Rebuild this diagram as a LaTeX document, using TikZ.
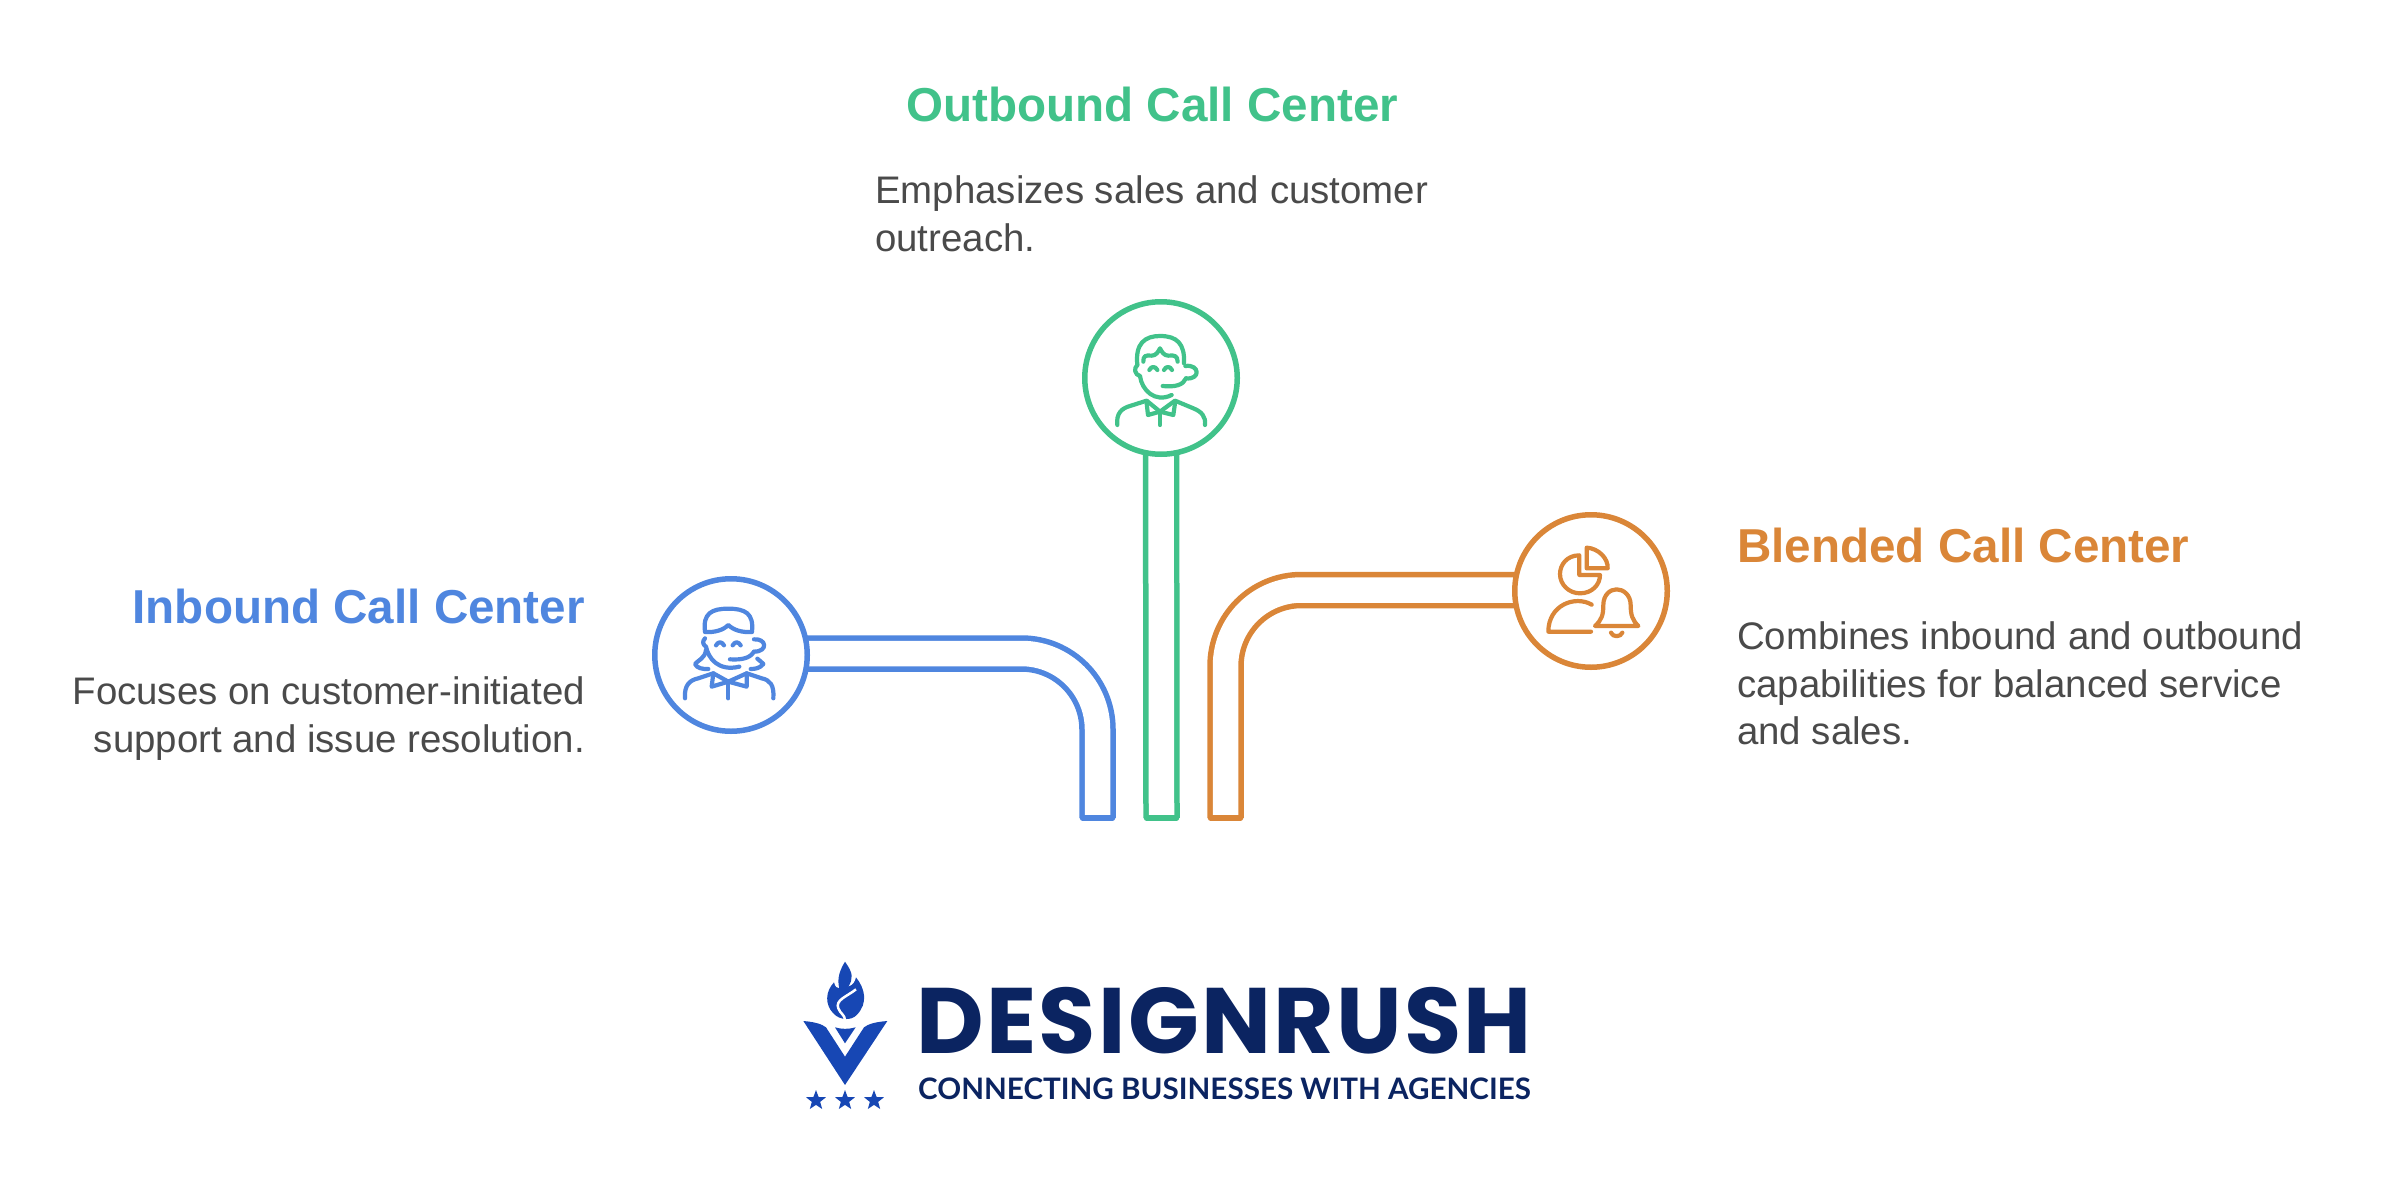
\documentclass[tikz,border=0pt]{standalone}
\usepackage{fontspec}
\setmainfont{Liberation Sans}
\newfontfamily\logofont{Poppins}
\newfontfamily\tagfont{Lato}
\usepackage{tikz}
\usetikzlibrary{positioning, calc}
\usetikzlibrary{shapes.geometric,backgrounds}
\definecolor{inblue}{HTML}{4F86DF}
\definecolor{outgreen}{HTML}{41C28A}
\definecolor{blendorange}{HTML}{DA8638}
\definecolor{bodygray}{HTML}{4A4A4A}
\definecolor{navy}{HTML}{0B2461}
\definecolor{logoblue}{HTML}{1747B4}
\tikzset{
	hub/.style={circle,draw=#1,line width=5.5pt,fill=white,minimum size=152.5pt,inner sep=0pt},
	tube/.style={draw=#1,line width=5.5pt,double=white,double distance=25.5pt,rounded corners=76pt},
	tubecap/.style={draw=#1,line width=5.5pt,line cap=round},
	icon/.style={draw=#1,line width=4.2pt,line cap=round,line join=round},
	heading/.style={font=\bfseries\fontsize{47.6}{47.6}\selectfont,text=#1,inner sep=0pt},
	body/.style={font=\fontsize{38.4}{47.5}\selectfont,text=bodygray,inner sep=0pt},
	logostar/.style={star,star points=5,star point ratio=2.4,fill=logoblue,minimum size=21pt,inner sep=0pt}
}
\begin{document}
\begin{tikzpicture}[x=1pt,y=-1pt]
	\useasboundingbox (0,0) rectangle (2400,1188);
	% hubs
	\node [hub=inblue] (inbound) at (731,655) {};
	\node [hub=outgreen] (outbound) at (1161,378) {};
	\node [hub=blendorange] (blended) at (1591,591) {};
	\coordinate (inend) at (1097.5,818);
	\coordinate (outend) at (1161.5,818);
	\coordinate (blendend) at (1225.5,818);
	% tubes
	\begin{scope}[on background layer]
		\draw [tube=inblue] ([yshift=1.5pt]inbound.center) -| (inend);
		\draw [tube=outgreen] (outbound.center) -- (outend);
		\draw [tube=blendorange] ([yshift=1pt]blended.center) -| (blendend);
	\end{scope}
	\draw [tubecap=inblue] ($(inend)+(-15,0)$) -- ($(inend)+(15,0)$);
	\draw [tubecap=outgreen] ($(outend)+(-15,0)$) -- ($(outend)+(15,0)$);
	\draw [tubecap=blendorange] ($(blendend)+(-15,0)$) -- ($(blendend)+(15,0)$);
	% labels
	\node [heading=inblue,anchor=base east] (inboundt) at (585,623) {Inbound Call Center};
	\node [body,align=right,below=53.5pt of inboundt.base east,anchor=north east] (inboundb) {Focuses on customer-initiated\\support and issue resolution.};
	\node [heading=outgreen,anchor=base west] (outboundt) at (906,122) {Outbound Call Center};
	\node [body,align=left,below=53.5pt of outboundt.base west,xshift=-31pt,anchor=north west] (outboundb) {Emphasizes sales and customer\\outreach.};
	\node [heading=blendorange,anchor=base west] (blendedt) at (1737,562) {Blended Call Center};
	\node [body,align=left,below=59.5pt of blendedt.base west,anchor=north west] (blendedb) {Combines inbound and outbound\\capabilities for balanced service\\and sales.};
	% woman with headset
	\begin{scope}[shift={(640,570)},scale=0.3333]
		\draw [icon=inblue] (195,185) .. controls (188,130) and (215,116) .. (265,116) .. controls (315,116) and (342,130) .. (336,185);
		\draw [icon=inblue] (195,186) .. controls (225,188) and (250,180) .. (265,165) .. controls (280,180) and (305,188) .. (336,186);
		\draw [icon=inblue] (195,205) .. controls (185,215) and (190,225) .. (198,230) .. controls (205,265) and (235,305) .. (298,290);
		\draw [icon=inblue] (198,240) .. controls (195,265) and (175,270) .. (165,282) .. controls (170,295) and (190,298) .. (205,297);
		\draw [icon=inblue] (228,226) .. controls (235,214) and (245,214) .. (252,226);
		\draw [icon=inblue] (278,226) .. controls (285,214) and (295,214) .. (302,226);
		\draw [icon=inblue] (270,268) .. controls (305,270) and (330,265) .. (342,245);
		\draw [icon=inblue] (342,208) .. controls (380,205) and (385,245) .. (342,245);
		\draw [icon=inblue] (352,266) .. controls (360,272) and (365,277) .. (370,282) .. controls (360,295) and (345,297) .. (332,297);
		\draw [icon=inblue] (135,385) .. controls (132,345) and (150,330) .. (175,325) -- (220,310) -- (265,335) -- (320,310) -- (365,325) .. controls (390,330) and (403,345) .. (400,385);
		\draw [icon=inblue] (220,310) -- (215,350) -- (265,335) -- (320,350) -- (320,310);
		\draw [icon=inblue] (265,335) -- (265,385);
	\end{scope}
	% man with headset
	\begin{scope}[shift={(1080,300)},scale=0.3333]
		\draw [icon=outgreen] (172,195) .. controls (165,130) and (195,108) .. (240,108) .. controls (290,108) and (315,130) .. (312,190);
		\draw [icon=outgreen] (190,185) .. controls (190,168) and (195,165) .. (215,167) .. controls (228,167) and (235,155) .. (240,145) .. controls (245,155) and (252,167) .. (265,167) .. controls (285,165) and (292,168) .. (293,185);
		\draw [icon=outgreen] (172,195) .. controls (160,205) and (165,225) .. (180,228) .. controls (185,270) and (225,310) .. (275,285);
		\draw [icon=outgreen] (208,210) .. controls (214,198) and (226,198) .. (232,210);
		\draw [icon=outgreen] (252,210) .. controls (258,198) and (270,198) .. (276,210);
		\draw [icon=outgreen] (248,258) .. controls (285,262) and (310,255) .. (318,235);
		\draw [icon=outgreen] (316,198) .. controls (360,192) and (362,240) .. (318,235);
		\draw [icon=outgreen] (112,375) .. controls (108,340) and (125,325) .. (150,318) -- (200,302) -- (240,335) -- (285,302) -- (340,325) .. controls (365,335) and (378,350) .. (375,375);
		\draw [icon=outgreen] (200,310) -- (204,345) -- (240,335) -- (280,345) -- (285,310);
		\draw [icon=outgreen] (240,335) -- (240,375);
	\end{scope}
	% person with chart and bell
	\begin{scope}[shift={(1510,510)},scale=0.3333]
		\draw [icon=blendorange] (208,195) -- (208,136) .. controls (170,136) and (150,165) .. (150,192) .. controls (150,225) and (178,250) .. (210,250) .. controls (245,250) and (270,225) .. (270,195) -- cycle;
		\draw [icon=blendorange] (230,175) -- (230,113) .. controls (265,115) and (295,145) .. (293,175) -- cycle;
		\draw [icon=blendorange] (245,284) .. controls (195,255) and (115,285) .. (115,365) -- (243,365);
		\draw [icon=blendorange] (255,348) .. controls (275,330) and (280,315) .. (280,285) .. controls (280,255) and (300,238) .. (320,238) .. controls (340,238) and (362,255) .. (362,285) .. controls (362,315) and (367,330) .. (385,348) -- cycle;
		\draw [icon=blendorange] (303,368) .. controls (308,382) and (332,382) .. (337,368);
	\end{scope}
	% logo
	\begin{scope}[shift={(790,950)},scale=0.3333]
		\fill [logoblue] (40,213) .. controls (75,216) and (95,222) .. (108,232) -- (165,320) -- (222,232) .. controls (235,222) and (255,216) .. (292,213) -- (165,405) -- cycle;
		\fill [logoblue] (135,232) .. controls (155,238) and (175,238) .. (197,232) -- (165,280) -- cycle;
		\fill [logoblue] (165,35) .. controls (190,70) and (190,85) .. (175,110) .. controls (190,105) and (195,95) .. (198,82) .. controls (225,115) and (235,160) .. (200,195) .. controls (185,212) and (150,212) .. (130,190) .. controls (105,165) and (105,125) .. (132,97) .. controls (135,110) and (140,115) .. (148,115) .. controls (140,85) and (150,60) .. (165,35) -- cycle;
		\draw [white,line width=2.5pt] (198,118) .. controls (170,140) and (135,150) .. (145,175) .. controls (150,190) and (165,195) .. (165,210);
	\end{scope}
	\foreach \i/\starx in {1/816,2/845,3/874}
		\node [logostar] (logostar\i) at (\starx,1100.5) {};
	\node [anchor=base west,inner sep=0pt,text=navy,font=\logofont\bfseries\addfontfeature{LetterSpace=2.5}\fontsize{93}{93}\selectfont] (logoname) at (916,1053) {DESIGNRUSH};
	\node [anchor=base west,inner sep=0pt,text=navy,font=\tagfont\bfseries\fontsize{29.6}{29.6}\selectfont] (logotag) at (918,1099) {CONNECTING BUSINESSES WITH AGENCIES};
\end{tikzpicture}
\end{document}
